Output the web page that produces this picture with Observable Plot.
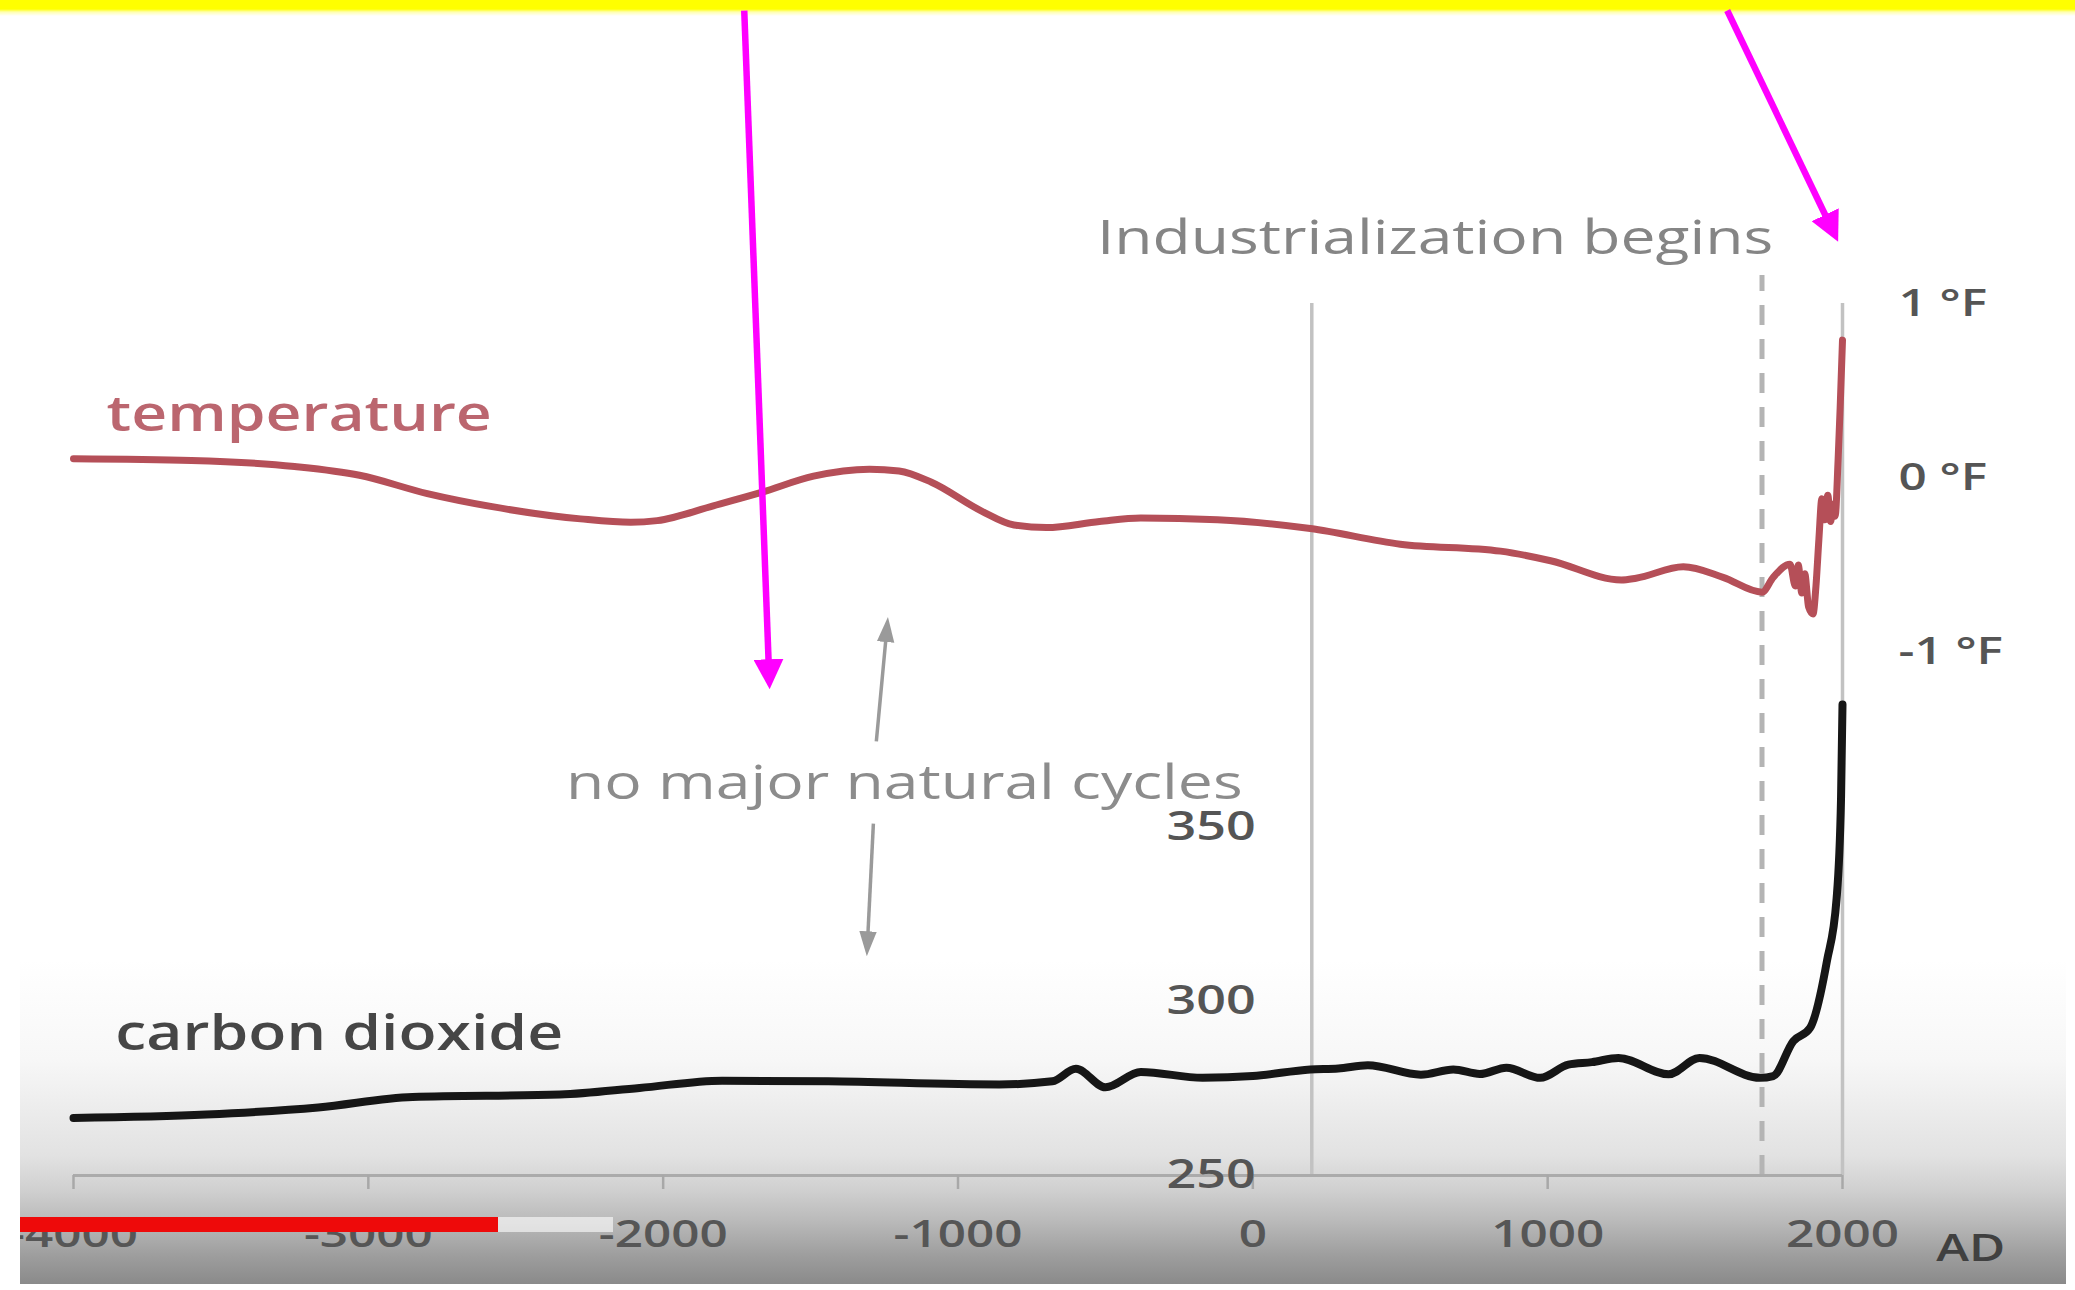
<!DOCTYPE html>
<html>
<head>
<meta charset="utf-8">
<script src="https://cdn.jsdelivr.net/npm/d3@7"></script>
<script src="https://cdn.jsdelivr.net/npm/@observablehq/plot@0.6"></script>
<style>
  html, body { margin: 0; padding: 0; background: #fff; }
  #stage { position: relative; width: 2075px; height: 1290px; overflow: hidden; background: #fff; }
  #yellow { position: absolute; left: 0; top: 0; width: 2075px; height: 16px;
    background: linear-gradient(to bottom, #ffff00 0px, #ffff00 9px, rgba(255,255,80,0.45) 12px, rgba(255,255,255,0) 16px); }
  #vignette { position: absolute; left: 20px; top: 960px; width: 2046px; height: 324px;
    background: linear-gradient(to bottom, rgba(255,255,255,0) 0px, #f7f7f7 100px, #e2e2e2 195px, #d0d0d0 230px, #b9b9b9 262px, #9e9e9e 295px, #8a8a8a 324px); }
  #chart { position: absolute; left: 0; top: 0; }
  #played { position: absolute; left: 20px; top: 1217px; width: 478px; height: 15px; background: #ee0a0a; }
  #buffered { position: absolute; left: 498px; top: 1217px; width: 115px; height: 15px; background: rgba(255,255,255,0.6); }
  #edgeL { position: absolute; left: 0; top: 900px; width: 20px; height: 390px; background: #fff; }
  #edgeR { position: absolute; left: 2066px; top: 900px; width: 9px; height: 390px; background: #fff; }
</style>
</head>
<body>
<div id="stage">
  <div id="yellow"></div>
  <div id="vignette"></div>
  <div id="chart"></div>
  <div id="played"></div>
  <div id="buffered"></div>
  <div id="edgeL"></div>
  <div id="edgeR"></div>
</div>
<script>
// ---------- data ----------
const tempYears = [-4000, -3600, -3250, -3030, -2800, -2580, -2280, -2110, -2020, -1830, -1670, -1490, -1300, -1200, -1090, -920, -810, -700, -520, -380, -120, 195, 500, 840, 1010, 1250, 1300, 1460, 1595, 1727, 1765, 1822, 1840, 1850, 1862, 1872, 1885, 1900, 1910, 1920, 1930, 1940, 1950, 1960, 1968, 1975, 1985, 1992, 2000];
const tempValuesF = [0.11, 0.10, 0.065, 0.015, -0.09, -0.165, -0.235, -0.255, -0.245, -0.16, -0.085, 0.01, 0.05, 0.04, -0.025, -0.19, -0.27, -0.285, -0.25, -0.23, -0.24, -0.29, -0.38, -0.42, -0.475, -0.585, -0.575, -0.51, -0.57, -0.655, -0.57, -0.495, -0.62, -0.50, -0.66, -0.55, -0.74, -0.78, -0.62, -0.35, -0.12, -0.24, -0.10, -0.25, -0.15, -0.22, 0.10, 0.40, 0.79];

const co2Years = [-4000, -3550, -3170, -2850, -2350, -2080, -1800, -1440, -860, -680, -600, -500, -380, -170, 0, 195, 290, 390, 570, 680, 770, 860, 975, 1070, 1150, 1240, 1410, 1515, 1720, 1765, 1833, 1890, 1947, 1980, 1995, 2000];
const co2Ppm = [266.5, 267.5, 269.5, 272.5, 273.2, 275.1, 277.2, 277.0, 276.1, 277.0, 280.6, 275.3, 279.7, 278.0, 278.5, 280.4, 280.7, 281.6, 278.9, 280.4, 279.1, 280.9, 278.0, 281.8, 282.5, 283.7, 279.0, 283.7, 278.0, 278.5, 288.5, 292.3, 311.4, 329.4, 358.0, 385.0];

const xTickYears = [-4000, -3000, -2000, -1000, 0, 1000, 2000];
const tempTicksF = [1, 0, -1];
const tempTickLabels = ["1 °F", "0 °F", "-1 °F"];
const co2Ticks = [250, 300, 350];

const dividerYears = [200, 2000];          // solid vertical lines
const industrialYear = [1727];             // dashed line "Industrialization begins"

// annotation texts and their anchor points (year, °F or ppm)
const seriesLabels = [
  {text: "temperature", year: -3888, f: 0.358}
];
const co2Labels = [
  {text: "carbon dioxide", year: -3858, ppm: 290.4}
];
const greyNotes = [
  {text: "Industrialization begins", year: 1765, f: 1.373, anchor: "end"},
  {text: "no major natural cycles", year: -1182, f: -1.752, anchor: "middle"}
];
const eraLabel = [{text: "AD", year: 2318, f: -4.419}];

const greyArrows = [
  {year1: -1277, f1: -1.511, year2: -1240, f2: -0.841},
  {year1: -1287, f1: -1.982, year2: -1308, f2: -2.700}
];
const magentaArrows = [
  {year1: -1725, f1: 2.680, year2: -1640, f2: -1.160},
  {year1: 1609, f1: 2.680, year2: 1972, f2: 1.400}
];

// ---------- helpers ----------
const co2ToF = c => (c - 250) / 50 - 4;   // CO2 axis shares the plot's y scale
const temperature = tempYears.map((y, i) => ({year: y, f: tempValuesF[i]}));
const co2 = co2Years.map((y, i) => ({year: y, ppm: co2Ppm[i]}));

const NS = "http://www.w3.org/2000/svg";
function head(size, halfWidth) {
  return function (color) {
    const m = document.createElementNS(NS, "marker");
    m.setAttribute("viewBox", "-10 -10 20 20");
    m.setAttribute("markerWidth", size);
    m.setAttribute("markerHeight", size);
    m.setAttribute("markerUnits", "userSpaceOnUse");
    m.setAttribute("orient", "auto");
    m.setAttribute("refX", 4);
    m.setAttribute("refY", 0);
    const p = document.createElementNS(NS, "path");
    p.setAttribute("d", `M-10,${-halfWidth}L10,0L-10,${halfWidth}Z`);
    p.setAttribute("fill", color);
    p.setAttribute("stroke", "none");
    m.appendChild(p);
    return m;
  };
}

const chart = Plot.plot({
  width: 2075,
  height: 1290,
  marginLeft: 73,
  marginRight: 233,
  marginTop: 303,
  marginBottom: 115,
  x: {domain: [-4000, 2000]},
  y: {domain: [-4, 1]},
  style: {fontFamily: "'Open Sans', sans-serif", background: "transparent", overflow: "visible"},
  marks: [
    Plot.ruleX(dividerYears, {y1: co2ToF(250), y2: 1, stroke: "#c2c2c2", strokeWidth: 3.5}),
    Plot.ruleX(industrialYear, {y1: co2ToF(250), y2: 1.16, stroke: "#b4b4b4", strokeWidth: 5, strokeDasharray: "20,14"}),
    Plot.ruleY([co2ToF(250)], {stroke: "#ababab", strokeWidth: 3}),
    Plot.axisX(xTickYears, {anchor: "bottom", tickSize: 14, tickPadding: 31, stroke: "#a8a8a8", strokeWidth: 2.5,
      fill: "#565656", fontSize: 38, fontWeight: 600, tickFormat: d => `${d}`}),
    Plot.axisY(tempTicksF, {anchor: "right", tickSize: 0, tickPadding: 56, fill: "#555", fontSize: 38, fontWeight: 600,
      tickFormat: (d, i) => tempTickLabels[i]}),
    Plot.text(co2Ticks, {x: dividerYears[0], y: d => co2ToF(d), text: d => `${d}`, textAnchor: "end", dx: -56,
      fill: "#555", fontSize: 40, fontWeight: 600}),
    Plot.line(co2, {x: "year", y: d => co2ToF(d.ppm), stroke: "#161616", strokeWidth: 8, curve: "monotone-x"}),
    Plot.line(temperature, {x: "year", y: "f", stroke: "#b54f58", strokeWidth: 7, curve: "monotone-x"}),
    Plot.text(seriesLabels, {x: "year", y: "f", text: "text", textAnchor: "start", fill: "#bb666f", fontSize: 48, fontWeight: 600}),
    Plot.text(co2Labels, {x: "year", y: d => co2ToF(d.ppm), text: "text", textAnchor: "start", fill: "#464646", fontSize: 48, fontWeight: 600}),
    Plot.text(greyNotes.filter(d => d.anchor === "end"), {x: "year", y: "f", text: "text", textAnchor: "end", fill: "#858585", fontSize: 48, fontWeight: 500}),
    Plot.text(greyNotes.filter(d => d.anchor === "middle"), {x: "year", y: "f", text: "text", textAnchor: "middle", fill: "#8c8c8c", fontSize: 48, fontWeight: 500}),
    Plot.text(eraLabel, {x: "year", y: "f", text: "text", textAnchor: "start", fill: "#404040", fontSize: 38, fontWeight: 600}),
    Plot.link(greyArrows, {x1: "year1", y1: "f1", x2: "year2", y2: "f2", stroke: "#9a9a9a", strokeWidth: 3.5, markerEnd: head(25, 7)}),
    Plot.link(magentaArrows, {x1: "year1", y1: "f1", x2: "year2", y2: "f2", stroke: "#ff00ff", strokeWidth: 6.5, markerEnd: head(30, 10)})
  ]
});

document.getElementById("chart").appendChild(chart);

// the source image is horizontally stretched: widen glyphs accordingly
const STRETCH = 1.3;
chart.querySelectorAll("text").forEach(t => {
  const w = t.getComputedTextLength();
  if (w > 0) {
    t.setAttribute("textLength", (w * STRETCH).toFixed(1));
    t.setAttribute("lengthAdjust", "spacingAndGlyphs");
  }
});
</script>
</body>
</html>
